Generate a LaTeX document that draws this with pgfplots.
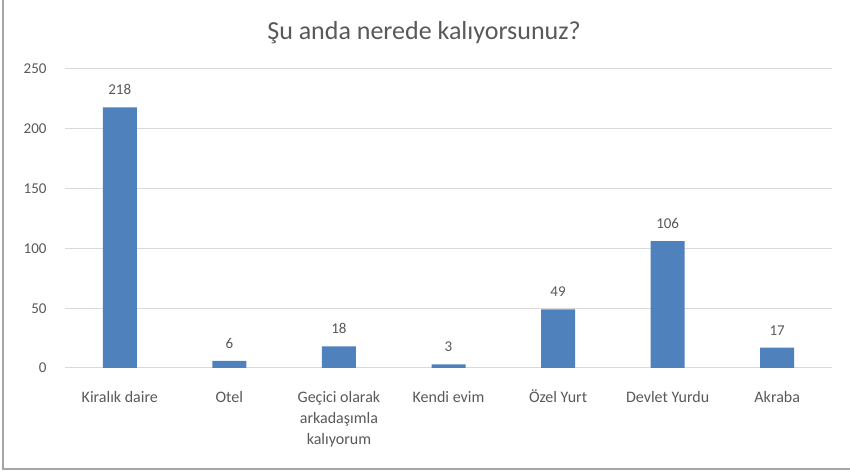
\documentclass[border=0pt]{standalone}
\usepackage{pgfplots}
\pgfplotsset{compat=1.18}
\usepackage{fontspec}
\setmainfont{Carlito}
\definecolor{barblue}{HTML}{4F81BD}
\definecolor{txtgray}{HTML}{595959}
\definecolor{gridgray}{HTML}{D9D9D9}
\definecolor{framegray}{HTML}{A6A6A6}
\newcommand\s{\rule{0pt}{15bp}}
\begin{document}
\begin{tikzpicture}[x=1bp,y=1bp]
\useasboundingbox (0,0) rectangle (850,474);
\fill[white] (0,0) rectangle (850,474);
\draw[framegray,line width=1.2bp] (3,474) -- (3,5) -- (850,5);
\node[txtgray,font=\fontsize{26bp}{30bp}\selectfont] at (424,441) {Şu anda nerede kalıyorsunuz?};
\begin{axis}[
  at={(65bp,106bp)}, anchor=south west,
  scale only axis,
  width=767bp, height=299bp,
  xmin=-0.5, xmax=6.5,
  ymin=0, ymax=250,
  ytick={0,50,100,150,200,250},
  xtick=data,
  xticklabels={\s Kiralık daire,\s Otel,{\s Geçici olarak\\arkadaşımla\\kalıyorum},\s Kendi evim,\s Özel Yurt,\s Devlet Yurdu,\s Akraba},
  axis line style={draw=none},
  axis x line*=bottom,
  axis y line*=left,
  major tick length=0pt,
  ymajorgrids,
  grid style={gridgray,line width=1bp},
  /pgf/number format/assume math mode=true,
  yticklabel style={txtgray,font=\fontsize{15bp}{18bp}\selectfont,xshift=-15bp},
  xticklabel style={txtgray,font=\fontsize{16bp}{21bp}\selectfont,align=center,yshift=-16bp},
  ybar, bar width=34bp,
  nodes near coords,
  nodes near coords style={txtgray,font=\fontsize{15bp}{18bp}\selectfont,yshift=9bp},
  clip=false,
]
\addplot[fill=barblue,draw=none] coordinates {(0,218) (1,6) (2,18) (3,3) (4,49) (5,106) (6,17)};
\end{axis}
\end{tikzpicture}
\end{document}
